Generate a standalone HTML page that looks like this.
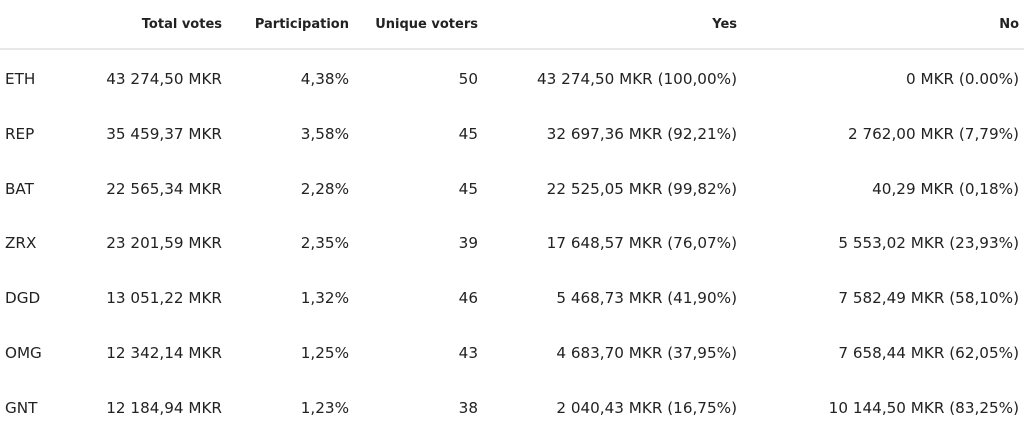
<!DOCTYPE html>
<html><head><meta charset="utf-8"><style>
body{margin:0;width:1024px;height:436px;background:#fff;font-family:"DejaVu Sans","Liberation Sans",sans-serif;color:#222;position:relative;overflow:hidden}
.h{position:absolute;top:17px;font-size:13px;font-weight:bold;color:#222;white-space:nowrap}
.c{position:absolute;font-size:15.2px;white-space:nowrap;color:#222}
.r{text-align:right}
.line{position:absolute;left:0;top:48px;width:1024px;height:2px;background:#e8e8e8}
</style></head><body>
<div class="h r" style="right:802px">Total votes</div>
<div class="h r" style="right:675px">Participation</div>
<div class="h r" style="right:546px">Unique voters</div>
<div class="h r" style="right:287px">Yes</div>
<div class="h r" style="right:5px">No</div>
<div class="line"></div>
<div id="rows"></div>
<script>
var d=[["ETH","43 274,50 MKR","4,38%","50","43 274,50 MKR (100,00%)","0 MKR (0.00%)"],
["REP","35 459,37 MKR","3,58%","45","32 697,36 MKR (92,21%)","2 762,00 MKR (7,79%)"],
["BAT","22 565,34 MKR","2,28%","45","22 525,05 MKR (99,82%)","40,29 MKR (0,18%)"],
["ZRX","23 201,59 MKR","2,35%","39","17 648,57 MKR (76,07%)","5 553,02 MKR (23,93%)"],
["DGD","13 051,22 MKR","1,32%","46","5 468,73 MKR (41,90%)","7 582,49 MKR (58,10%)"],
["OMG","12 342,14 MKR","1,25%","43","4 683,70 MKR (37,95%)","7 658,44 MKR (62,05%)"],
["GNT","12 184,94 MKR","1,23%","38","2 040,43 MKR (16,75%)","10 144,50 MKR (83,25%)"]];
var rt=[802,675,546,287,5],h="";
d.forEach(function(r,i){var t=70+i*54.8;
h+='<div class="c" style="left:5px;top:'+t+'px">'+r[0]+'</div>';
for(var j=1;j<6;j++)h+='<div class="c r" style="right:'+rt[j-1]+'px;top:'+t+'px">'+r[j]+'</div>';});
document.getElementById("rows").innerHTML=h;
</script>
</body></html>
